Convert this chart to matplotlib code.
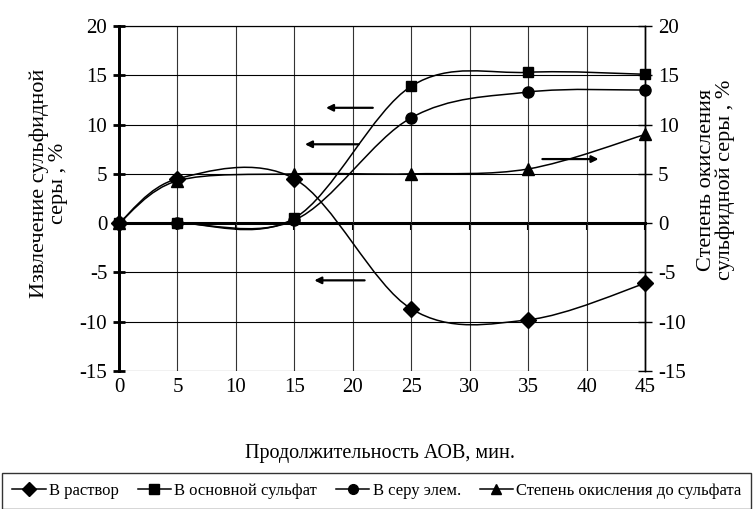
import matplotlib
matplotlib.use('Agg')
import matplotlib.pyplot as plt
from matplotlib.path import Path
from matplotlib.patches import PathPatch
from matplotlib.lines import Line2D

plt.rcParams['font.family'] = ['Liberation Serif', 'DejaVu Serif']
plt.rcParams['axes.unicode_minus'] = False

# data
minutes = [0, 5, 15, 25, 35, 45]
v_rastvor = [0, 4.5, 4.5, -8.7, -9.8, -6.1]  # В раствор
v_sulfat = [0, 0, 0.5, 13.9, 15.3, 15.1]  # В основной сульфат
v_seru = [0, 0, 0.3, 10.7, 13.3, 13.5]  # В серу элем.
stepen = [0, 4.3, 5, 5, 5.5, 9]  # Степень окисления до сульфата

labels = ['В раствор', 'В основной сульфат', 'В серу элем.', 'Степень окисления до сульфата']
xticks = [0, 5, 10, 15, 20, 25, 30, 35, 40, 45]
yticks = [-15, -10, -5, 0, 5, 10, 15, 20]


def smooth_path(xs, ys):
    # excel-like smoothed line (bezier through the points)
    verts = [(xs[0], ys[0])]
    codes = [Path.MOVETO]
    n = len(xs)
    for i in range(n - 1):
        x0, y0 = (xs[i - 1], ys[i - 1]) if i > 0 else (xs[i], ys[i])
        x3, y3 = (xs[i + 2], ys[i + 2]) if i + 2 < n else (xs[i + 1], ys[i + 1])
        c1 = (xs[i] + (xs[i + 1] - x0) / 6, ys[i] + (ys[i + 1] - y0) / 6)
        c2 = (xs[i + 1] - (x3 - xs[i]) / 6, ys[i + 1] - (y3 - ys[i]) / 6)
        verts += [c1, c2, (xs[i + 1], ys[i + 1])]
        codes += [Path.CURVE4] * 3
    return Path(verts, codes)


fig = plt.figure(figsize=(7.53, 5.09), dpi=100)
ax = fig.add_axes([0.158, 0.271, 0.699, 0.678])
ax2 = ax.twinx()

for a in (ax, ax2):
    a.set_xlim(0, 45)
    a.set_ylim(-15, 20)
    a.set_yticks(yticks)

ax.set_xticks(xticks)
ax.grid(True, axis='y', color='black', lw=0.8)
ax.grid(True, axis='x', color='#333333', lw=0.8)
ax.tick_params(axis='x', length=0, pad=5, labelsize=15)
ax.tick_params(axis='y', direction='inout', length=9, width=2, labelsize=15, pad=4)
ax2.tick_params(axis='y', direction='inout', length=10, width=1, labelsize=15, pad=4)
ax.spines['bottom'].set_visible(False)
ax2.spines['bottom'].set_visible(False)
ax.spines['left'].set_linewidth(2)
ax2.spines['left'].set_linewidth(2)
ax.spines['right'].set_linewidth(1)
ax2.spines['right'].set_linewidth(1)

# zero line with small ticks
sec = ax.secondary_xaxis(0, transform=ax.transData)
sec.set_xticks(xticks)
sec.set_xticklabels([])
sec.tick_params(direction='out', length=5, width=1.5)
sec.spines['bottom'].set_linewidth(2.2)

series = [(ax, v_rastvor, 'D', 8), (ax, v_sulfat, 's', 7.5), (ax, v_seru, 'o', 8), (ax2, stepen, '^', 8)]
handles = []
for (a, vals, m, ms), lab in zip(series, labels):
    a.add_patch(PathPatch(smooth_path(minutes, vals), fill=False, lw=1.1, color='black', zorder=3))
    a.plot(minutes, vals, ls='none', marker=m, ms=ms, color='black', zorder=4, clip_on=False)
    handles.append(Line2D([], [], color='black', lw=1.1, marker=m, ms=ms - 1, label=lab))

arrow = dict(arrowstyle='-|>', color='black', lw=1.6, mutation_scale=10, shrinkA=0, shrinkB=0)
ax.annotate('', xy=(17.7, 11.7), xytext=(21.7, 11.7), arrowprops=arrow)
ax.annotate('', xy=(15.9, 8.0), xytext=(20.5, 8.0), arrowprops=arrow)
ax.annotate('', xy=(16.7, -5.8), xytext=(21.0, -5.8), arrowprops=arrow)
ax2.annotate('', xy=(41.0, 6.5), xytext=(36.2, 6.5), arrowprops=arrow)

fig.text(0.065, 0.64, 'Извлечение сульфидной\nсеры , %', rotation=90, ha='center', va='center',
         fontsize=16, multialignment='center', linespacing=1.0)
fig.text(0.951, 0.646, 'Степень окисления\nсульфидной серы , %', rotation=90, ha='center', va='center',
         fontsize=16, multialignment='center', linespacing=1.0)
fig.text(0.505, 0.11, 'Продолжительность АОВ, мин.', ha='center', va='center', fontsize=14.5)

leg = fig.legend(handles=handles, loc='upper left', bbox_to_anchor=(0.003, 1 - 473 / 509, 0.995, 0),
                 mode='expand', ncol=4, fontsize=12, frameon=True, fancybox=False, handlelength=2,
                 handletextpad=0.2, columnspacing=0.6, borderpad=0.6, borderaxespad=0)
leg.get_frame().set_edgecolor('black')
leg.get_frame().set_linewidth(1)

fig.savefig('out.png', dpi=100)
